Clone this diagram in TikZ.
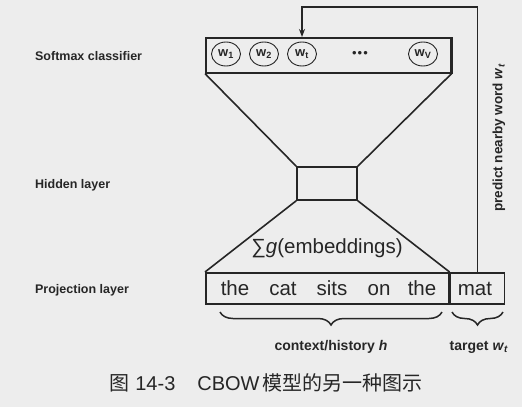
\documentclass[tikz,border=0pt]{standalone}
\usepackage{fontspec}
\setmainfont{Liberation Sans}
\newfontfamily\cjk{Noto Sans CJK SC}
\usepackage{tikz}
\usetikzlibrary{arrows.meta}
\usetikzlibrary{positioning, shapes.geometric, decorations.pathreplacing}
\definecolor{paper}{gray}{0.93}
\definecolor{ink}{gray}{0.15}
\tikzset{
  layerlbl/.style={anchor=west, font=\fontsize{12.5}{14}\selectfont\bfseries},
  wcirc/.style={ellipse, draw, line width=0.9pt, minimum width=29pt, minimum height=24pt, inner sep=0pt, font=\fontsize{13}{14}\selectfont\bfseries},
  word/.style={anchor=base, font=\fontsize{20.5}{22}\selectfont},
  brlbl/.style={font=\fontsize{14}{16}\selectfont\bfseries},
  ubrace/.style={decorate, decoration={brace, mirror, amplitude=13pt}, line width=1.5pt}
}
\begin{document}
\begin{tikzpicture}[x=1pt, y=-1pt, line width=1.6pt, draw=ink, text=ink]
        \fill[paper] (0,0) rectangle (522,407);
        \useasboundingbox (0,0) rectangle (522,407);
        % layer names
        \node[layerlbl] (lsoft) at (31,56) {Softmax classifier};
        \node[layerlbl] (lhid) at (31,185) {Hidden layer};
        \node[layerlbl] (lproj) at (31,290) {Projection layer};
        % softmax classifier
        \node[draw, minimum width=245pt, minimum height=35pt, inner sep=0pt, anchor=north west] (soft) at (205,37) {};
        \draw[line width=3pt] (soft.north east) -- (soft.south east); % shadow edge
        \node[wcirc] (w1) at (226,54) {w\textsubscript{1}};
        \node[wcirc] (w2) at (264,54) {w\textsubscript{2}};
        \node[wcirc] (wt) at (302,54) {w\textsubscript{t}};
        \node[font=\fontsize{13}{14}\selectfont] (dots) at (360,54) {\textbullet\hspace{1pt}\textbullet\hspace{1pt}\textbullet};
        \node[wcirc] (wv) at (423,54) {w\textsubscript{V}};
        % hidden layer
        \node[draw, minimum width=60pt, minimum height=33pt, inner sep=0pt] (hid) at (327,183.5) {};
        % projection layer
        \node[draw, minimum width=243pt, minimum height=31pt, inner sep=0pt, anchor=north west] (ctx) at (205,272) {};
        \node[draw, minimum width=54pt, minimum height=31pt, inner sep=0pt, anchor=west] (tgt) at (ctx.east) {};
        \draw[line width=3.5pt] (ctx.north east) -- (ctx.south east);
        \node[word] (the1) at (235,295) {the};
        \node[word] (cat) at (283,295) {cat};
        \node[word] (sits) at (332,295) {sits};
        \node[word] (on) at (379,295) {on};
        \node[word] (the2) at (422,295) {the};
        \node[word] (mat) at (475,295) {mat};
        % funnels
        \draw (soft.south west) -- (hid.north west);
        \draw (soft.south east) -- (hid.north east);
        \draw (hid.south west) -- (ctx.north west);
        \draw (hid.south east) -- (ctx.north east);
        \node[word] (agg) at (327,253) {∑\textit{g}(embeddings)};
        % prediction arrow
        \coordinate (top) at (478,7);
        \draw[-{Stealth[length=8pt,width=6pt]}, line width=1.3pt] (tgt.north) -- (tgt.north |- top) -| (wt |- soft.north);
        \node[brlbl, font=\fontsize{13.5}{15}\selectfont\bfseries, rotate=90] (pred) at (499,138) {predict nearby word \textit{w}\textsubscript{\textit{t}}};
        % braces
        \draw[ubrace] (220,312) -- (442,312);
        \draw[ubrace] (452,312) -- (503,312);
        \node[brlbl] (lctx) at (331,347) {context/history \textit{h}};
        \node[brlbl] (ltgt) at (479,347) {target \textit{w}\textsubscript{\textit{t}}};
        % caption
        \node[font=\fontsize{20}{24}\selectfont] (cap) at (266,383) {{\cjk 图}\hspace{6pt}14-3\hspace{22pt}CBOW\hspace{3pt}{\cjk 模型的另一种图示}};
\end{tikzpicture}
\end{document}
